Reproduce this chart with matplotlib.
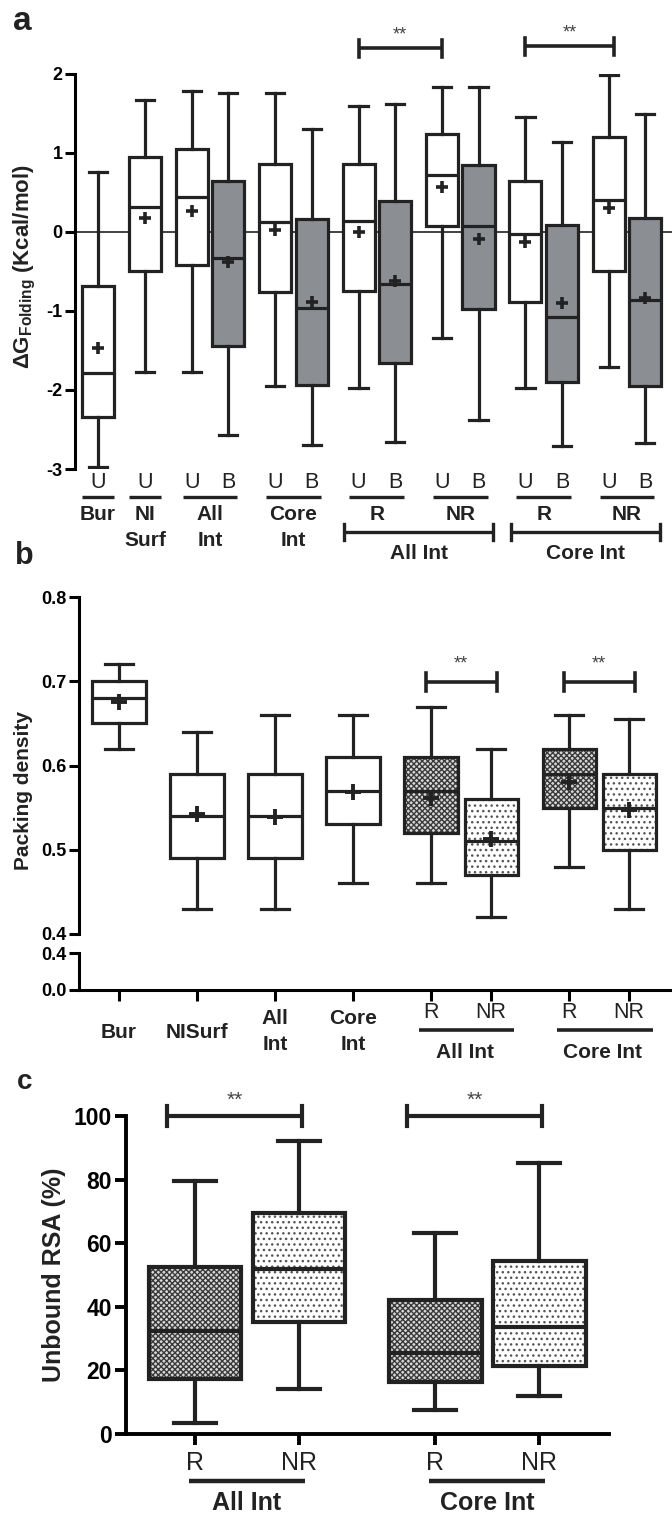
import matplotlib
matplotlib.use("Agg")
import matplotlib.pyplot as plt
from matplotlib.patches import PathPatch
from matplotlib.transforms import blended_transform_factory

plt.rcParams['font.family'] = ['Liberation Sans', 'DejaVu Sans']
plt.rcParams['font.weight'] = 'bold'
plt.rcParams['axes.unicode_minus'] = False
plt.rcParams['mathtext.fontset'] = 'custom'
plt.rcParams['mathtext.rm'] = 'Liberation Sans:bold'
plt.rcParams['mathtext.bf'] = 'Liberation Sans:bold'
plt.rcParams['hatch.linewidth'] = 1.0

W, H = 672, 1513
INK = '#222222'
GRAY = '#8b8e93'

# ---- panel a: dG folding (U = unbound, B = bound)
A_SUB = ["U", "U", "U", "B", "U", "B", "U", "B", "U", "B", "U", "B", "U", "B"]
A_LO = [-2.97, -1.77, -1.77, -2.57, -1.95, -2.70, -1.97, -2.66, -1.34, -2.38, -1.98, -2.71, -1.71, -2.67]
A_Q1 = [-2.34, -0.49, -0.42, -1.44, -0.76, -1.94, -0.75, -1.66, 0.07, -0.98, -0.89, -1.90, -0.49, -1.95]
A_MED = [-1.79, 0.32, 0.44, -0.33, 0.13, -0.96, 0.14, -0.66, 0.72, 0.07, -0.03, -1.07, 0.40, -0.86]
A_Q3 = [-0.68, 0.95, 1.05, 0.64, 0.86, 0.16, 0.86, 0.39, 1.24, 0.85, 0.64, 0.09, 1.20, 0.18]
A_HI = [0.76, 1.67, 1.78, 1.76, 1.76, 1.31, 1.60, 1.62, 1.84, 1.83, 1.46, 1.14, 1.99, 1.49]
A_MEAN = [-1.47, 0.18, 0.27, -0.38, 0.02, -0.89, 0.00, -0.62, 0.57, -0.09, -0.13, -0.90, 0.30, -0.84]
A_GROUPS = ["Bur", "NI\nSurf", "All\nInt", "Core\nInt", "R", "NR", "R", "NR"]
A_GSIZE = [1, 1, 2, 2, 2, 2, 2, 2]
A_BRACKETS = [("All Int", 6, 9), ("Core Int", 10, 13)]
A_SIG = [(6, 8), (10, 12)]

# ---- panel b: packing density
B_LABELS = ["Bur", "NISurf", "All\nInt", "Core\nInt", "R", "NR", "R", "NR"]
B_LO = [0.62, 0.43, 0.43, 0.46, 0.46, 0.42, 0.48, 0.43]
B_Q1 = [0.65, 0.49, 0.49, 0.53, 0.52, 0.47, 0.55, 0.50]
B_MED = [0.68, 0.54, 0.54, 0.57, 0.57, 0.51, 0.59, 0.55]
B_Q3 = [0.70, 0.59, 0.59, 0.61, 0.61, 0.56, 0.62, 0.59]
B_HI = [0.72, 0.64, 0.66, 0.66, 0.67, 0.62, 0.66, 0.655]
B_MEAN = [0.675, 0.542, 0.539, 0.568, 0.562, 0.513, 0.580, 0.547]
B_KIND = ["plain", "plain", "plain", "plain", "R", "NR", "R", "NR"]
B_BRACKETS = [("All Int", 4, 5), ("Core Int", 6, 7)]
B_SIG = [(4, 5), (6, 7)]

# ---- panel c: unbound RSA
C_LABELS = ["R", "NR", "R", "NR"]
C_LO = [3.5, 14.0, 7.6, 12.0]
C_Q1 = [17.3, 35.3, 16.5, 21.5]
C_MED = [32.5, 52.0, 25.5, 33.7]
C_Q3 = [52.5, 69.5, 42.0, 54.5]
C_HI = [79.5, 92.0, 63.3, 85.3]
C_KIND = ["R", "NR", "R", "NR"]
C_BRACKETS = [("All Int", 0, 1), ("Core Int", 2, 3)]
C_SIG = [(0, 1), (2, 3)]


def fy(y):
    return 1 - y / H


def px_axes(fig, x0, y0, x1, y1):
    return fig.add_axes([x0 / W, 1 - y1 / H, (x1 - x0) / W, (y1 - y0) / H])


def place(sizes, pair, gap):
    pos, p = [], 0.0
    for n in sizes:
        for k in range(n):
            pos.append(p)
            p += pair
        p += gap - pair
    return pos


def stats(lo, q1, med, q3, hi, mean=None):
    out = []
    for i in range(len(lo)):
        d = dict(whislo=lo[i], q1=q1[i], med=med[i], q3=q3[i], whishi=hi[i], fliers=[])
        if mean is not None:
            d["mean"] = mean[i]
        out.append(d)
    return out


def draw_boxes(ax, st, pos, width, capw, lw, kinds, ms=8, mew=2.5):
    art = ax.bxp(st, positions=pos, widths=width, capwidths=capw, patch_artist=True,
                 showmeans=("mean" in st[0]), showfliers=False, manage_ticks=False,
                 boxprops=dict(linewidth=lw, edgecolor=INK),
                 medianprops=dict(color=INK, linewidth=lw, solid_capstyle='butt'),
                 whiskerprops=dict(color=INK, linewidth=lw),
                 capprops=dict(color=INK, linewidth=lw),
                 meanprops=dict(marker='+', markeredgecolor=INK, markersize=ms,
                                markeredgewidth=mew))
    for box, kind in zip(art['boxes'], kinds):
        if kind == "plain":
            box.set_facecolor('white')
        elif kind == "gray":
            box.set_facecolor(GRAY)
        else:
            if kind == "R":
                box.set_facecolor('#d8d8d8'); box.set_hatch('xxxxxx'); box.set_edgecolor('#3a3a3a')
            else:
                box.set_facecolor('white'); box.set_hatch('...'); box.set_edgecolor('#555555')
            box.set_linewidth(0)
            ax.add_patch(PathPatch(box.get_path(), fc='none', ec=INK, lw=lw, zorder=2.05))
    for m in art['medians']:
        m.set_zorder(2.1)
    for m in art.get('means', []):
        m.set_zorder(2.2)
    return art


def sig_bar(ax, tr, x0, x1, y, h, lw, star_y=None, fs=13):
    ax.plot([x0, x1], [y, y], color=INK, lw=lw, transform=tr, clip_on=False, solid_capstyle='butt')
    for x in (x0, x1):
        ax.plot([x, x], [y - h / 2, y + h / 2], color=INK, lw=lw, transform=tr, clip_on=False)
    if star_y is not None:
        ax.text((x0 + x1) / 2, star_y, "**", transform=tr, ha='center', va='center',
                fontsize=fs, fontweight='normal', color='#444444')


fig = plt.figure(figsize=(W / 100, H / 100), dpi=100)

# ================= panel a
pa = place(A_GSIZE, 1.0, 1.285)
ppu_a, first_a = 36.5, 98
axa = px_axes(fig, 75, 74, 672, 469)
axa.set_xlim((75 - first_a) / ppu_a, (672 - first_a) / ppu_a)
axa.set_ylim(-3, 2)
kinds_a = ["plain" if s == "U" else "gray" for s in A_SUB]
draw_boxes(axa, stats(A_LO, A_Q1, A_MED, A_Q3, A_HI, A_MEAN), pa, 0.88, 0.5, 2.3, kinds_a,
           ms=8, mew=2.6)
axa.axhline(0, color=INK, lw=1.2, zorder=1.5)
for s in ("top", "right", "bottom"):
    axa.spines[s].set_visible(False)
axa.spines["left"].set_linewidth(2.2)
axa.set_xticks([])
axa.set_yticks([-3, -2, -1, 0, 1, 2])
axa.tick_params(axis='y', direction='out', length=7, width=2.2, labelsize=13, pad=2)
tra = blended_transform_factory(axa.transData, fig.transFigure)
for x, s in zip(pa, A_SUB):
    axa.text(x, fy(483), s, transform=tra, ha='center', va='center', fontsize=15.5,
             fontweight='normal', color=INK)
i = 0
for lab, n in zip(A_GROUPS, A_GSIZE):
    xs = pa[i:i + n]
    if n == 1:
        x0, x1 = xs[0] - 0.44, xs[0] + 0.44
    else:
        x0, x1 = xs[0] - 0.25, xs[-1] + 0.25
    axa.plot([x0, x1], [fy(497)] * 2, transform=tra, color=INK, lw=2.4, clip_on=False,
             solid_capstyle='butt')
    for k, line in enumerate(lab.split("\n")):
        axa.text((xs[0] + xs[-1]) / 2, fy(515 + 25 * k), line, transform=tra, ha='center',
                 va='center', fontsize=15, color=INK)
    i += n
for lab, a0, a1 in A_BRACKETS:
    x0, x1 = pa[a0] - 0.4, pa[a1] + 0.4
    sig_bar(axa, tra, x0, x1, fy(532), 16 / H, 2.4)
    axa.text((x0 + x1) / 2, fy(553), lab, transform=tra, ha='center', va='center',
             fontsize=15, color=INK)
for k, (s0, s1) in enumerate(A_SIG):
    sig_bar(axa, tra, pa[s0], pa[s1] + 0.15 * k, fy(48 - 2 * k), 17 / H, 2.6, fy(35 - 2 * k), 13)
fig.text(25 / W, fy(267), "ΔG$_{\\mathrm{Folding}}$ (Kcal/mol)", rotation=90, ha='center',
         va='center', fontsize=16, color=INK)
fig.text(22 / W, fy(22), "a", ha='center', va='center', fontsize=24, color=INK)

# ================= panel b (broken axis)
pb = place([1, 1, 1, 1, 2, 2], 0.77, 1.0)
ppu_b, first_b = 78, 119
xl_b = ((79 - first_b) / ppu_b, (672 - first_b) / ppu_b)
axb = px_axes(fig, 79, 597, 672, 934)
axb2 = px_axes(fig, 79, 953, 672, 990)
stb = stats(B_LO, B_Q1, B_MED, B_Q3, B_HI, B_MEAN)
draw_boxes(axb, stb, pb, 0.68, 0.36, 2.3, B_KIND, ms=11, mew=2.8)
for ax in (axb, axb2):
    ax.set_xlim(*xl_b)
    ax.spines["top"].set_visible(False)
    ax.spines["right"].set_visible(False)
    ax.spines["left"].set_linewidth(2.2)
    ax.tick_params(axis='y', direction='out', length=7, width=2.2, labelsize=13, pad=2)
axb.spines["bottom"].set_visible(False)
axb.set_ylim(0.4, 0.8)
axb.set_yticks([0.4, 0.5, 0.6, 0.7, 0.8])
axb.set_yticklabels(["%.1f" % v for v in [0.4, 0.5, 0.6, 0.7, 0.8]])
axb.set_xticks([])
axb2.set_ylim(0, 0.4)
axb2.set_yticks([0.0, 0.4])
axb2.set_yticklabels(["0.0", "0.4"])
axb2.spines["bottom"].set_linewidth(2.2)
axb2.set_xticks(pb)
axb2.set_xticklabels([])
axb2.tick_params(axis='x', direction='out', length=8, width=2.2)
trb = blended_transform_factory(axb.transData, fig.transFigure)
for x, lab, kind in zip(pb, B_LABELS, B_KIND):
    if kind == "plain":
        lines = lab.split("\n")
        ys = [1033] if len(lines) == 1 else [1018, 1044]
        for line, y in zip(lines, ys):
            axb.text(x, fy(y), line, transform=trb, ha='center', va='center', fontsize=15,
                     color=INK)
    else:
        axb.text(x, fy(1012), lab, transform=trb, ha='center', va='center', fontsize=15.5,
                 fontweight='normal', color=INK)
for lab, b0, b1 in B_BRACKETS:
    x0, x1 = pb[b0] - 0.15, pb[b1] + 0.3
    axb.plot([x0, x1], [fy(1030)] * 2, transform=trb, color=INK, lw=2.6, clip_on=False,
             solid_capstyle='butt')
    axb.text((pb[b0] + pb[b1]) / 2 + 0.05, fy(1052), lab, transform=trb, ha='center',
             va='center', fontsize=15, color=INK)
for s0, s1 in B_SIG:
    sig_bar(axb, trb, pb[s0] - 0.07, pb[s1] + 0.07, fy(682), 18 / H, 2.6, fy(664), 13)
fig.text(24 / W, fy(791), "Packing density", rotation=90, ha='center', va='center',
         fontsize=15, color=INK)
fig.text(24 / W, fy(556), "b", ha='center', va='center', fontsize=22, color=INK)

# ================= panel c
pc = place([2, 2], 1.0, 1.31)
ppu_c, first_c = 104, 195
axc = px_axes(fig, 126, 1116, 609, 1434)
axc.set_xlim((126 - first_c) / ppu_c, (609 - first_c) / ppu_c)
axc.set_ylim(0, 100)
draw_boxes(axc, stats(C_LO, C_Q1, C_MED, C_Q3, C_HI), pc, 0.89, 0.4, 3.0, C_KIND)
axc.spines["top"].set_visible(False)
axc.spines["right"].set_visible(False)
axc.spines["left"].set_linewidth(2.8)
axc.spines["bottom"].set_linewidth(2.8)
axc.set_yticks([0, 20, 40, 60, 80, 100])
axc.set_xticks(pc)
axc.set_xticklabels([])
axc.tick_params(axis='both', direction='out', length=8, width=2.8, labelsize=16.5, pad=2)
trc = blended_transform_factory(axc.transData, fig.transFigure)
for x, lab in zip(pc, C_LABELS):
    axc.text(x, fy(1463), lab, transform=trc, ha='center', va='center', fontsize=18,
             fontweight='normal', color=INK)
for lab, c0, c1 in C_BRACKETS:
    x0, x1 = pc[c0] - 0.06, pc[c1] + 0.06
    axc.plot([x0, x1], [fy(1481)] * 2, transform=trc, color=INK, lw=3.2, clip_on=False,
             solid_capstyle='butt')
    axc.text((x0 + x1) / 2, fy(1503), lab, transform=trc, ha='center', va='center',
             fontsize=18, color=INK)
for s0, s1 in C_SIG:
    sig_bar(axc, trc, pc[s0] - 0.27, pc[s1] + 0.03, fy(1116), 20 / H, 3.0, fy(1100), 15)
fig.text(54 / W, fy(1275), "Unbound RSA (%)", rotation=90, ha='center', va='center',
         fontsize=18, color=INK)
fig.text(25 / W, fy(1082), "c", ha='center', va='center', fontsize=20, color=INK)

fig.savefig("out.png", dpi=100)
